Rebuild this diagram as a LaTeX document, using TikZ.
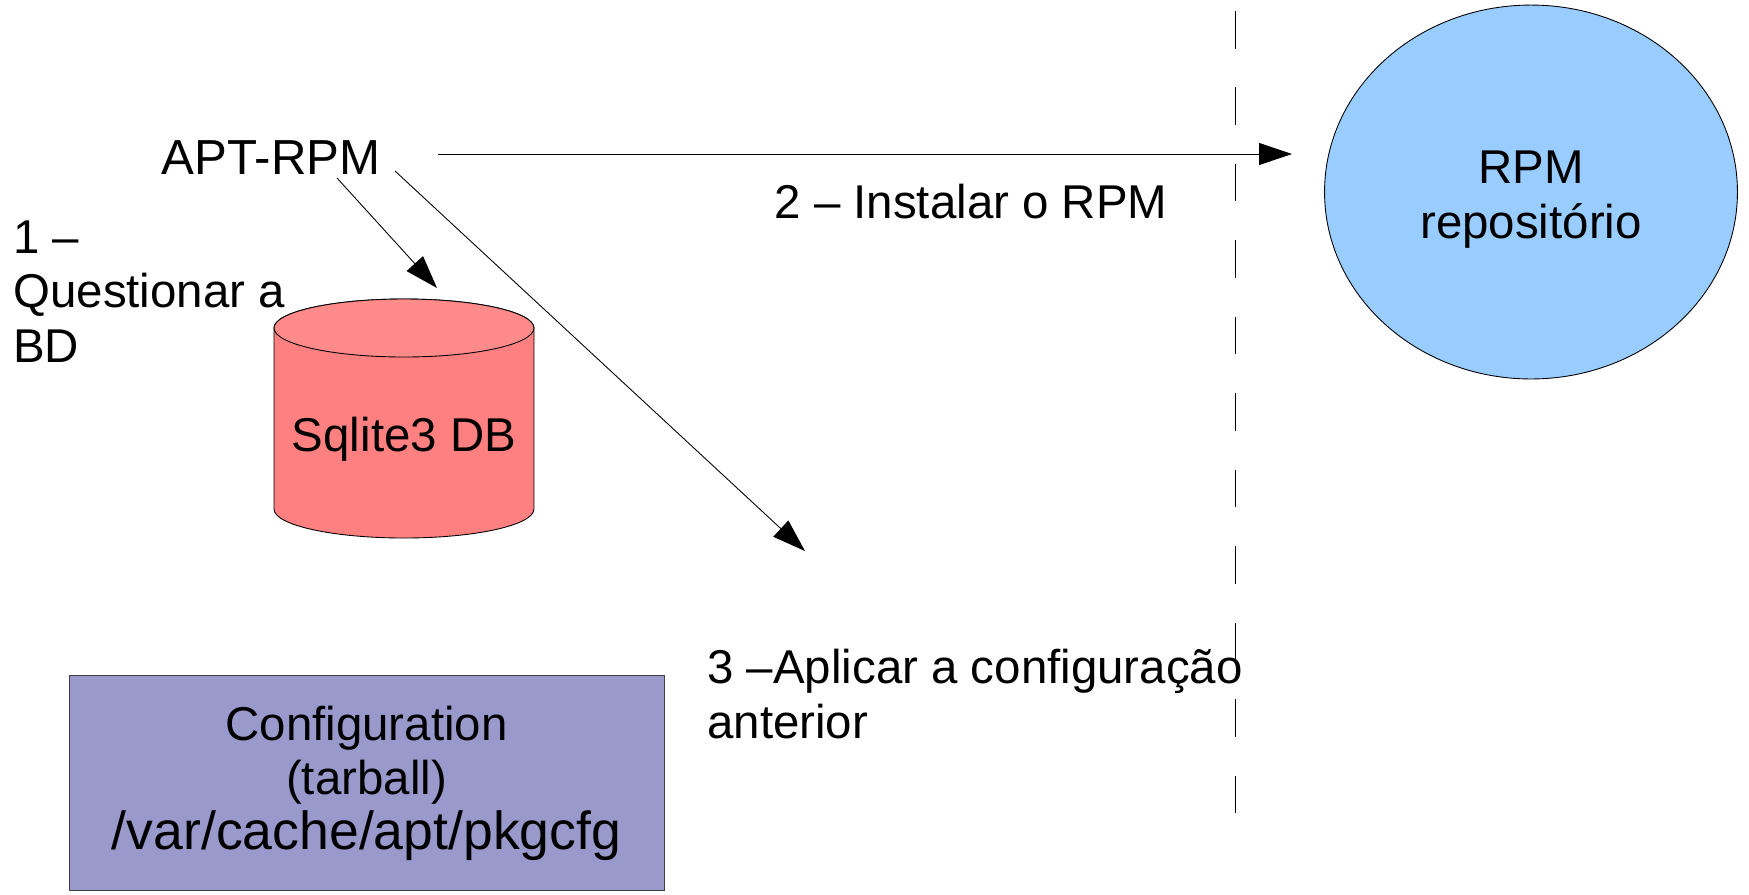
\documentclass[tikz,border=0pt]{standalone}
\usepackage{fontspec}
\setmainfont{Liberation Sans}
\usetikzlibrary{shapes.geometric,arrows.meta}
\definecolor{dbred}{RGB}{255,128,128}
\definecolor{dbtop}{RGB}{255,138,138}
\definecolor{repoblue}{RGB}{153,204,255}
\definecolor{cfgpurple}{RGB}{153,153,204}
\tikzset{
  txt/.style={inner sep=0pt, font=\fontsize{27}{31}\selectfont},
  flow/.style={draw=black, line width=0.5pt, -{Triangle[length=0.66cm,width=0.44cm]}},
  capend/.style={x radius=2.6cm, y radius=0.58cm},
}
\begin{document}
\begin{tikzpicture}[x=0.02cm, y=-0.02cm]
\useasboundingbox (0,0) rectangle (1749,894);
\draw [line width=0.5pt, dash pattern=on 0.75cm off 0.78cm] (1235,11) -- (1235,815);
\node (apt) at (271,174) [txt, anchor=base, font=\fontsize{28}{31}\selectfont] {APT-RPM};
% database cylinder
\filldraw [fill=dbred, line width=0.5pt] (274,328) -- (274,509) arc [start angle=180, end angle=360, capend] -- (534,328) arc [start angle=0, end angle=180, capend] -- cycle;
\filldraw [fill=dbtop, line width=0.5pt] (404,328) ellipse [capend];
\node (db) at (404,451) [txt, anchor=base] {Sqlite3 DB};
% repository
\node (repo) at (1531,192) [ellipse, draw=black, line width=0.5pt, fill=repoblue, minimum width=8.26cm, minimum height=7.48cm, inner sep=0pt] {};
\node (repotxt) at (1531,238) [txt, anchor=base, align=center] {RPM\\repositório};
\node (cfg) at (366.5,783) [rectangle, draw=black!75, line width=0.5pt, fill=cfgpurple, minimum width=11.9cm, minimum height=4.3cm, txt, align=center] {Configuration\\(tarball)\\{\fontsize{30.5}{34}\selectfont /var/cache/apt/pkgcfg}};
\node (q1) at (13,362) [txt, anchor=base west, align=left] {1 –\\Questionar a\\BD};
\node (q2) at (971,218) [txt, anchor=base] {2 – Instalar o RPM};
\node (q3) at (707,738) [txt, anchor=base west, align=left] {3 –Aplicar a configuração\\anterior};
% arrow ends
\coordinate (a1s) at (337,178);
\coordinate (a1e) at (437,288);
\coordinate (a2s) at (438,154);
\coordinate (a2e) at (1292,154);
\coordinate (a3s) at (395,171);
\coordinate (a3e) at (805,551);
\draw [flow] (a1s) -- (a1e);
\draw [flow] (a2s) -- (a2e);
\draw [flow] (a3s) -- (a3e);
\end{tikzpicture}
\end{document}
